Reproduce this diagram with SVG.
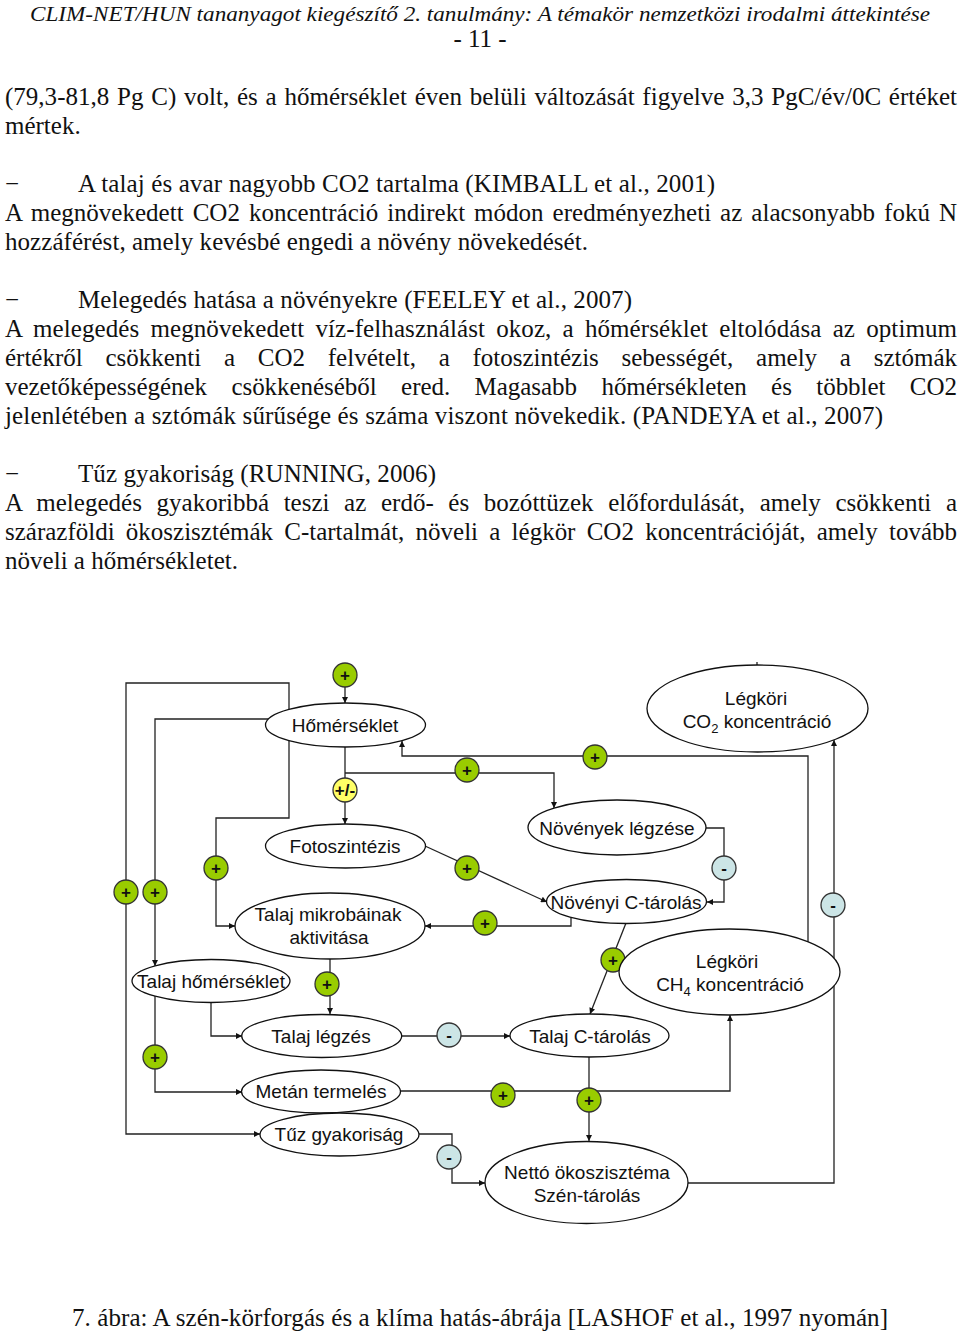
<svg xmlns="http://www.w3.org/2000/svg" width="960" height="1335" viewBox="0 0 960 1335">
<style>
.doc{font-family:"Liberation Serif","Times New Roman",serif;font-size:25px;fill:#111}
.hdr{font-family:"Liberation Serif","Times New Roman",serif;font-style:italic;font-size:22px;fill:#111}
.lbl{font-family:"Liberation Sans",Arial,sans-serif;font-size:19px;fill:#111;text-anchor:middle}
.sub{font-size:13px}
.node ellipse{fill:#fff;stroke:#111;stroke-width:1.3}
.conn path{fill:none;stroke:#222;stroke-width:1.3}
.g{fill:#99CC00;stroke:#333;stroke-width:1.3}
.y{fill:#FFFF66;stroke:#333;stroke-width:1.3}
.b{fill:#CCE5E6;stroke:#333;stroke-width:1.3}
.sg{font-family:"Liberation Sans",Arial,sans-serif;font-size:17px;font-weight:bold;fill:#111;text-anchor:middle}
</style>
<defs>
<marker id="ah" viewBox="0 0 10 10" refX="10" refY="5" markerWidth="7" markerHeight="6" markerUnits="userSpaceOnUse" orient="auto"><path d="M0,0 L10,5 L0,10 z" fill="#111"/></marker>
</defs>
<rect width="960" height="1335" fill="#fff"/>

<g id="page-text">
<text class="hdr" x="30" y="21" textLength="900" lengthAdjust="spacingAndGlyphs">CLIM-NET/HUN tananyagot kiegészítő 2. tanulmány: A témakör nemzetközi irodalmi áttekintése</text>
<text class="doc" x="480" y="47" text-anchor="middle">- 11 -</text>
<text class="doc" x="5" y="105" textLength="952" lengthAdjust="spacing" word-spacing="1.5">(79,3-81,8 Pg C) volt, és a hőmérséklet éven belüli változását figyelve 3,3 PgC/év/0C értéket</text>
<text class="doc" x="5" y="134">mértek.</text>
<text class="doc" x="5" y="192">−</text>
<text class="doc" x="78" y="192" textLength="637" lengthAdjust="spacing">A talaj és avar nagyobb CO2 tartalma (KIMBALL et al., 2001)</text>
<text class="doc" x="5" y="221" textLength="952" lengthAdjust="spacing" word-spacing="2.7">A megnövekedett CO2 koncentráció indirekt módon eredményezheti az alacsonyabb fokú N</text>
<text class="doc" x="5" y="250" textLength="583" lengthAdjust="spacing">hozzáférést, amely kevésbé engedi a növény növekedését.</text>
<text class="doc" x="5" y="308">−</text>
<text class="doc" x="78" y="308" textLength="554" lengthAdjust="spacing">Melegedés hatása a növényekre (FEELEY et al., 2007)</text>
<text class="doc" x="5" y="337" textLength="952" lengthAdjust="spacing" word-spacing="4.8">A melegedés megnövekedett víz-felhasználást okoz, a hőmérséklet eltolódása az optimum</text>
<text class="doc" x="5" y="366" textLength="952" lengthAdjust="spacing" word-spacing="16.5">értékről csökkenti a CO2 felvételt, a fotoszintézis sebességét, amely a sztómák</text>
<text class="doc" x="5" y="395" textLength="952" lengthAdjust="spacing" word-spacing="18.2">vezetőképességének csökkenéséből ered. Magasabb hőmérsékleten és többlet CO2</text>
<text class="doc" x="5" y="424" textLength="878" lengthAdjust="spacing">jelenlétében a sztómák sűrűsége és száma viszont növekedik. (PANDEYA et al., 2007)</text>
<text class="doc" x="5" y="482">−</text>
<text class="doc" x="78" y="482" textLength="358" lengthAdjust="spacing">Tűz gyakoriság (RUNNING, 2006)</text>
<text class="doc" x="5" y="511" textLength="952" lengthAdjust="spacing" word-spacing="8.3">A melegedés gyakoribbá teszi az erdő- és bozóttüzek előfordulását, amely csökkenti a</text>
<text class="doc" x="5" y="540" textLength="952" lengthAdjust="spacing" word-spacing="5">szárazföldi ökoszisztémák C-tartalmát, növeli a légkör CO2 koncentrációját, amely tovább</text>
<text class="doc" x="5" y="569" textLength="233" lengthAdjust="spacing">növeli a hőmérsékletet.</text>
<text class="doc" x="72" y="1326" textLength="816" lengthAdjust="spacing">7. ábra: A szén-körforgás és a klíma hatás-ábrája [LASHOF et al., 1997 nyomán]</text>
</g>

<g id="connectors" class="conn">
<path d="M757,662 V666"/>
<path d="M345,687 V703" marker-end="url(#ah)"/>
<path d="M345,747 V824" marker-end="url(#ah)"/>
<path d="M345,773 H554 V808" marker-end="url(#ah)"/>
<path d="M808,960 V756 H402 V741" marker-end="url(#ah)"/>
<path d="M688,1183 H834 V740" marker-end="url(#ah)"/>
<path d="M706,828 H724 V902 H707" marker-end="url(#ah)"/>
<path d="M425,846 L547,902" marker-end="url(#ah)"/>
<path d="M571,918 V926 H425" marker-end="url(#ah)"/>
<path d="M626,923 L590,1014" marker-end="url(#ah)"/>
<path d="M402,1036 H510" marker-end="url(#ah)"/>
<path d="M330,959 V1014" marker-end="url(#ah)"/>
<path d="M289,712 V683 H126 V1134 H260" marker-end="url(#ah)"/>
<path d="M289,738 V818 H216 V926 H235" marker-end="url(#ah)"/>
<path d="M270,719 H155 V966" marker-end="url(#ah)"/>
<path d="M211,1002 V1036 H242" marker-end="url(#ah)"/>
<path d="M155,996 V1092 H242" marker-end="url(#ah)"/>
<path d="M400,1091 H730 V1015" marker-end="url(#ah)"/>
<path d="M589,1057 V1141" marker-end="url(#ah)"/>
<path d="M419,1134 H452 V1183 H485" marker-end="url(#ah)"/>
</g>

<g id="signs">
<circle class="g" cx="345" cy="675" r="12"/><text class="sg" x="345" y="681">+</text>
<circle class="y" cx="345" cy="790" r="12"/><text class="sg" x="345" y="796" font-size="14">+/-</text>
<circle class="g" cx="467" cy="770" r="12"/><text class="sg" x="467" y="776">+</text>
<circle class="g" cx="595" cy="757" r="12"/><text class="sg" x="595" y="763">+</text>
<circle class="g" cx="216" cy="868" r="12"/><text class="sg" x="216" y="874">+</text>
<circle class="g" cx="467" cy="868" r="12"/><text class="sg" x="467" y="874">+</text>
<circle class="g" cx="126" cy="892" r="12"/><text class="sg" x="126" y="898">+</text>
<circle class="g" cx="155" cy="892" r="12"/><text class="sg" x="155" y="898">+</text>
<circle class="g" cx="485" cy="923" r="12"/><text class="sg" x="485" y="929">+</text>
<circle class="g" cx="613" cy="960" r="12"/><text class="sg" x="613" y="966">+</text>
<circle class="g" cx="327" cy="984" r="12"/><text class="sg" x="327" y="990">+</text>
<circle class="g" cx="155" cy="1057" r="12"/><text class="sg" x="155" y="1063">+</text>
<circle class="g" cx="503" cy="1095" r="12"/><text class="sg" x="503" y="1101">+</text>
<circle class="g" cx="589" cy="1100" r="12"/><text class="sg" x="589" y="1106">+</text>
<circle class="b" cx="724" cy="868" r="12"/><text class="sg" x="724" y="874">-</text>
<circle class="b" cx="833" cy="905" r="12"/><text class="sg" x="833" y="911">-</text>
<circle class="b" cx="449" cy="1035" r="12"/><text class="sg" x="449" y="1041">-</text>
<circle class="b" cx="449" cy="1157" r="12"/><text class="sg" x="449" y="1163">-</text>
</g>

<g id="homerseklet" class="node"><ellipse cx="345.5" cy="725" rx="80" ry="22"/><text class="lbl" x="345" y="732">Hőmérséklet</text></g>
<g id="legkori-co2" class="node"><ellipse cx="757.5" cy="708.5" rx="110.5" ry="43.5"/><text class="lbl" x="756" y="705">Légköri</text><text class="lbl" x="757" y="728">CO<tspan class="sub" dy="5">2</tspan><tspan dy="-5"> koncentráció</tspan></text></g>
<g id="fotoszintezis" class="node"><ellipse cx="345.5" cy="846" rx="80" ry="22"/><text class="lbl" x="345" y="853">Fotoszintézis</text></g>
<g id="novenyek-legzese" class="node"><ellipse cx="617" cy="827.5" rx="89" ry="27.5"/><text class="lbl" x="617" y="835">Növények légzése</text></g>
<g id="novenyi-c-tarolas" class="node"><ellipse cx="626.5" cy="901.5" rx="80" ry="22"/><text class="lbl" x="626" y="909">Növényi C-tárolás</text></g>
<g id="talaj-mikrobak" class="node"><ellipse cx="330" cy="926" rx="95" ry="33"/><text class="lbl" x="328" y="921">Talaj mikrobáinak</text><text class="lbl" x="329" y="944">aktivitása</text></g>
<g id="legkori-ch4" class="node"><ellipse cx="729.5" cy="972" rx="110.5" ry="43"/><text class="lbl" x="727" y="968">Légköri</text><text class="lbl" x="730" y="991">CH<tspan class="sub" dy="5">4</tspan><tspan dy="-5"> koncentráció</tspan></text></g>
<g id="talaj-homerseklet" class="node"><ellipse cx="211" cy="981" rx="79" ry="21.5"/><text class="lbl" x="211" y="988">Talaj hőmérséklet</text></g>
<g id="talaj-legzes" class="node"><ellipse cx="321.7" cy="1036" rx="80" ry="21.5"/><text class="lbl" x="321" y="1043">Talaj légzés</text></g>
<g id="talaj-c-tarolas" class="node"><ellipse cx="589.5" cy="1035.5" rx="79.5" ry="21.5"/><text class="lbl" x="590" y="1043">Talaj C-tárolás</text></g>
<g id="metan-termeles" class="node"><ellipse cx="321" cy="1091.5" rx="79.5" ry="21.5"/><text class="lbl" x="321" y="1098">Metán termelés</text></g>
<g id="tuz-gyakorisag" class="node"><ellipse cx="339.5" cy="1134.5" rx="79.5" ry="21.5"/><text class="lbl" x="339" y="1141">Tűz gyakoriság</text></g>
<g id="netto" class="node"><ellipse cx="586.5" cy="1182.5" rx="101.5" ry="41"/><text class="lbl" x="587" y="1179">Nettó ökoszisztéma</text><text class="lbl" x="587" y="1202">Szén-tárolás</text></g>
</svg>
